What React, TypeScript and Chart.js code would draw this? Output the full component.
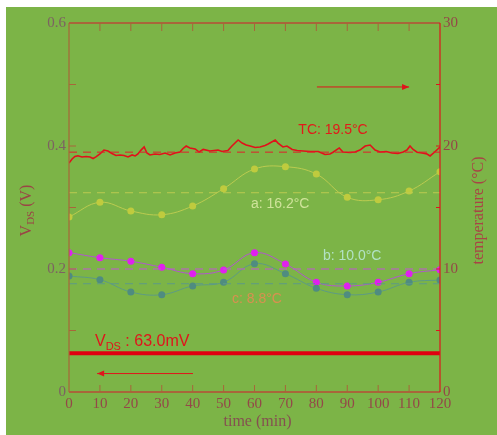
import React, { useEffect, useRef } from "react";
import { Chart, registerables } from "chart.js";
Chart.register(...registerables);

// ---- data ----
const TIMES = [0, 10, 20, 30, 40, 50, 60, 70, 80, 90, 100, 110, 120];
const TEMP_A = [14.23, 15.42, 14.72, 14.41, 15.12, 16.53, 18.13, 18.32, 17.72, 15.83, 15.63, 16.34, 17.91];
const TEMP_B = [11.33, 10.92, 10.63, 10.14, 9.62, 9.92, 11.33, 10.41, 8.92, 8.62, 8.92, 9.62, 9.94];
const TEMP_C = [9.43, 9.13, 8.13, 7.91, 8.62, 8.92, 10.43, 9.62, 8.43, 7.91, 8.13, 8.92, 9.11];
const MEAN_A = 16.2;
const MEAN_B = 10.0;
const MEAN_C = 8.8;
const MEAN_TC = 19.5;
const VDS = 0.063;

const TC_TIME = [0, 1, 1.9, 2.9, 4.2, 5.5, 6.8, 7.8, 8.7, 10, 11.3, 12.6, 13.9, 15.2, 16.5, 17.8, 19.1, 20.4, 21.4, 22.3, 23.3, 24.3, 25.2, 26.2, 27.8, 29.4, 31.1, 32.7, 34.3, 35.9, 36.9, 37.9, 39.1, 40.8, 42.1, 43.4, 45.6, 48.2, 49.5, 51.4, 52.7, 54.7, 56, 57.3, 58.6, 60.2, 61.8, 63.4, 64.4, 66.7, 67.6, 69.2, 70.5, 72.2, 73.8, 75.7, 78, 80.6, 81.2, 82.8, 84.4, 85.4, 87.4, 88.6, 90.9, 92.5, 94.1, 95.8, 97.4, 99, 100.6, 102.6, 104.5, 106.4, 108.1, 109.3, 110.3, 111.3, 112.6, 114.2, 115.8, 116.8, 118.1, 120];
const TC_TEMP = [18.62, 18.94, 19.15, 19.21, 19.11, 19.15, 19.11, 18.98, 19.11, 19.35, 19.67, 19.59, 19.39, 19.23, 19.27, 19.23, 19.11, 19.27, 19.19, 19.35, 19.67, 19.92, 19.43, 19.27, 19.35, 19.31, 19.43, 19.27, 19.43, 19.51, 19.8, 20.0, 19.84, 19.76, 19.51, 19.72, 19.59, 19.67, 19.55, 19.63, 20.0, 20.49, 20.24, 20.08, 20.0, 19.88, 19.92, 20.04, 20.16, 20.49, 20.24, 19.92, 20.0, 19.72, 19.63, 19.59, 19.55, 19.55, 19.49, 19.31, 19.35, 19.49, 19.84, 19.51, 19.47, 19.51, 19.67, 20.0, 20.08, 19.67, 19.51, 19.55, 19.43, 19.39, 19.51, 19.67, 20.0, 19.72, 19.49, 19.43, 19.35, 19.19, 19.47, 19.92];

const X_TICKS = [0, 10, 20, 30, 40, 50, 60, 70, 80, 90, 100, 110, 120];
const V_TICKS = [0, 0.2, 0.4, 0.6];
const V_TICK_LABELS = ["0", "0.2", "0.4", "0.6"];
const V_MINOR = [0.1, 0.3, 0.5];
const T_TICKS = [0, 10, 20, 30];
const T_MINOR = [5, 15, 25];

// annotations (data units)
const ARROW_TC = { from: 80.2, to: 110, y: 24.8 };
const ARROW_V = { from: 40.1, to: 9.1, y: 0.03 };
const LABEL_TC = { text: "TC: 19.5\u00b0C", x: 85.4, y: 21.3, color: "#e21a1a" };
const LABEL_A = { text: "a: 16.2\u00b0C", x: 68.3, y: 15.3, color: "#cfe39a" };
const LABEL_B = { text: "b: 10.0\u00b0C", x: 91.6, y: 11.06, color: "#b2e2c4" };
const LABEL_C = { text: "c: 8.8\u00b0C", x: 60.8, y: 7.56, color: "#d99050" };
const LABEL_V = { x: 8.4, y: 0.0748 };

const GREEN = "#7cb447";
const BROWN = "#a8663a";
const RED = "#e0141c";
const SERIF = "'Liberation Serif', 'DejaVu Serif', serif";
const SANS = "'Liberation Sans', Arial, sans-serif";

const pts = (xs: number[], ys: number[]) => xs.map((x, i) => ({ x, y: ys[i] }));
const flat = (v: number) => [{ x: 0, y: v }, { x: 120, y: v }];

const axesPlugin = {
  id: "customAxes",
  afterDatasetsDraw(chart: any) {
    const { ctx, chartArea } = chart;
    const { left, right, top, bottom } = chartArea;
    const sx = chart.scales.x;
    const sv = chart.scales.yV;
    const st = chart.scales.yT;
    ctx.save();
    const line = (x1: number, y1: number, x2: number, y2: number) => {
      ctx.beginPath();
      ctx.moveTo(x1, y1);
      ctx.lineTo(x2, y2);
      ctx.stroke();
    };
    // axis lines
    ctx.strokeStyle = BROWN;
    ctx.lineWidth = 1.2;
    line(left, top, left, bottom);
    ctx.lineWidth = 1.8;
    line(left, top, right, top);
    line(left, bottom, right, bottom);
    ctx.strokeStyle = RED;
    ctx.lineWidth = 1.2;
    line(right, top, right, bottom);

    // ticks
    ctx.lineWidth = 1;
    ctx.strokeStyle = BROWN;
    X_TICKS.slice(1, -1).forEach((t) => {
      const px = sx.getPixelForValue(t);
      line(px, top, px, top + 8);
      line(px, bottom, px, bottom - 7);
    });
    [...V_TICKS.slice(1, -1), ...V_MINOR].forEach((v) => {
      const py = sv.getPixelForValue(v);
      line(left, py, left + 7, py);
    });
    ctx.strokeStyle = RED;
    [...T_TICKS.slice(1, -1), ...T_MINOR].forEach((v) => {
      const py = st.getPixelForValue(v);
      line(right, py, right - 4, py);
    });

    // tick labels
    ctx.font = `15px ${SERIF}`;
    ctx.textBaseline = "middle";
    ctx.fillStyle = "#7d6262";
    ctx.textAlign = "right";
    V_TICKS.forEach((v, i) => {
      ctx.fillText(V_TICK_LABELS[i], left - 3, sv.getPixelForValue(v));
    });
    ctx.fillStyle = "#944848";
    ctx.textAlign = "center";
    X_TICKS.forEach((t) => {
      ctx.fillText(String(t), sx.getPixelForValue(t), bottom + 12);
    });
    ctx.textAlign = "left";
    T_TICKS.forEach((v) => {
      ctx.fillText(String(v), right + 3, st.getPixelForValue(v));
    });

    // axis titles
    ctx.font = `16px ${SERIF}`;
    ctx.fillStyle = "#855050";
    ctx.textAlign = "center";
    ctx.fillText("time (min)", (left + right) / 2 + 3, bottom + 30);

    ctx.save();
    ctx.translate(right + 39, (top + bottom) / 2 + 3);
    ctx.rotate(-Math.PI / 2);
    ctx.fillStyle = "#a84545";
    ctx.fillText("temperature (\u00b0C)", 0, 0);
    ctx.restore();

    ctx.save();
    ctx.translate(left - 42, (top + bottom) / 2 + 3);
    ctx.rotate(-Math.PI / 2);
    ctx.fillStyle = "#9a4545";
    const fBig = `16px ${SERIF}`;
    const fSmall = `11px ${SERIF}`;
    ctx.font = fBig;
    const w1 = ctx.measureText("V").width;
    const w3 = ctx.measureText(" (V)").width;
    ctx.font = fSmall;
    const w2 = ctx.measureText("DS").width;
    let cx = -(w1 + w2 + w3) / 2;
    ctx.textAlign = "left";
    ctx.font = fBig;
    ctx.fillText("V", cx, 0);
    cx += w1;
    ctx.font = fSmall;
    ctx.fillText("DS", cx, 4);
    cx += w2;
    ctx.font = fBig;
    ctx.fillText(" (V)", cx, 0);
    ctx.restore();

    // arrows
    const arrow = (x1: number, x2: number, y: number) => {
      ctx.strokeStyle = RED;
      ctx.fillStyle = RED;
      ctx.lineWidth = 1;
      line(x1, y, x2, y);
      const dir = x2 > x1 ? 1 : -1;
      ctx.beginPath();
      ctx.moveTo(x2, y);
      ctx.lineTo(x2 - dir * 7, y - 3);
      ctx.lineTo(x2 - dir * 7, y + 3);
      ctx.closePath();
      ctx.fill();
    };
    arrow(sx.getPixelForValue(ARROW_TC.from), sx.getPixelForValue(ARROW_TC.to), st.getPixelForValue(ARROW_TC.y));
    arrow(sx.getPixelForValue(ARROW_V.from), sx.getPixelForValue(ARROW_V.to), sv.getPixelForValue(ARROW_V.y));

    // series labels
    ctx.font = `14px ${SANS}`;
    ctx.textAlign = "center";
    ctx.textBaseline = "middle";
    [LABEL_TC, LABEL_A, LABEL_B, LABEL_C].forEach((l) => {
      ctx.fillStyle = l.color;
      ctx.fillText(l.text, sx.getPixelForValue(l.x), st.getPixelForValue(l.y));
    });

    // V_DS label
    ctx.fillStyle = RED;
    ctx.textAlign = "left";
    ctx.textBaseline = "alphabetic";
    let vx = sx.getPixelForValue(LABEL_V.x);
    const vy = sv.getPixelForValue(LABEL_V.y);
    ctx.font = `16px ${SANS}`;
    ctx.fillText("V", vx, vy);
    vx += ctx.measureText("V").width;
    ctx.font = `11px ${SANS}`;
    ctx.fillText("DS", vx, vy + 4);
    vx += ctx.measureText("DS").width;
    ctx.font = `16px ${SANS}`;
    ctx.fillText(" : " + (VDS * 1000).toFixed(1) + "mV", vx, vy);

    ctx.restore();
  },
};

export default function App() {
  const ref = useRef<HTMLCanvasElement | null>(null);
  useEffect(() => {
    if (!ref.current) return;
    const dashed = (v: number, color: string) => ({
      data: flat(v),
      yAxisID: "yT",
      borderColor: color,
      borderWidth: 1,
      borderDash: [8, 6],
      pointRadius: 0,
      tension: 0,
    });
    const series = (ys: number[], line: string, point: string) => ({
      data: pts(TIMES, ys),
      yAxisID: "yT",
      borderColor: line,
      borderWidth: 1,
      pointRadius: 3.5,
      pointBackgroundColor: point,
      pointBorderColor: point,
      pointBorderWidth: 0,
      tension: 0.4,
    });
    const chart = new Chart(ref.current, {
      type: "line",
      data: {
        datasets: [
          dashed(MEAN_A, "#bccb50"),
          dashed(MEAN_C, "#5d9a86"),
          dashed(MEAN_B, "#c455d8"),
          series(TEMP_A, "#bccb50", "#bfcb3e"),
          series(TEMP_C, "#5d9a86", "#4f8c80"),
          series(TEMP_B, "#b255d0", "#e020ee"),
          dashed(MEAN_TC, "#e0202a"),
          {
            data: pts(TC_TIME, TC_TEMP),
            yAxisID: "yT",
            borderColor: "#e2101a",
            borderWidth: 1.6,
            pointRadius: 0,
            tension: 0,
          },
          {
            data: flat(VDS),
            yAxisID: "yV",
            borderColor: "#e00010",
            borderWidth: 4,
            pointRadius: 0,
            tension: 0,
          },
        ] as any,
      },
      options: {
        responsive: false,
        devicePixelRatio: 1,
        animation: false,
        layout: { padding: { left: 63, right: 57, top: 16, bottom: 43 } },
        plugins: { legend: { display: false }, tooltip: { enabled: false } },
        scales: {
          x: { type: "linear", min: 0, max: 120, display: false },
          yV: { type: "linear", min: 0, max: 0.6, display: false, position: "left" },
          yT: { type: "linear", min: 0, max: 30, display: false, position: "right" },
        },
      },
      plugins: [axesPlugin],
    });
    return () => chart.destroy();
  }, []);
  return (
    <div
      style={{
        position: "absolute",
        left: 6,
        top: 7,
        width: 491,
        height: 428,
        background: GREEN,
      }}
    >
      <canvas ref={ref} width={491} height={428} style={{ display: "block" }} />
    </div>
  );
}
